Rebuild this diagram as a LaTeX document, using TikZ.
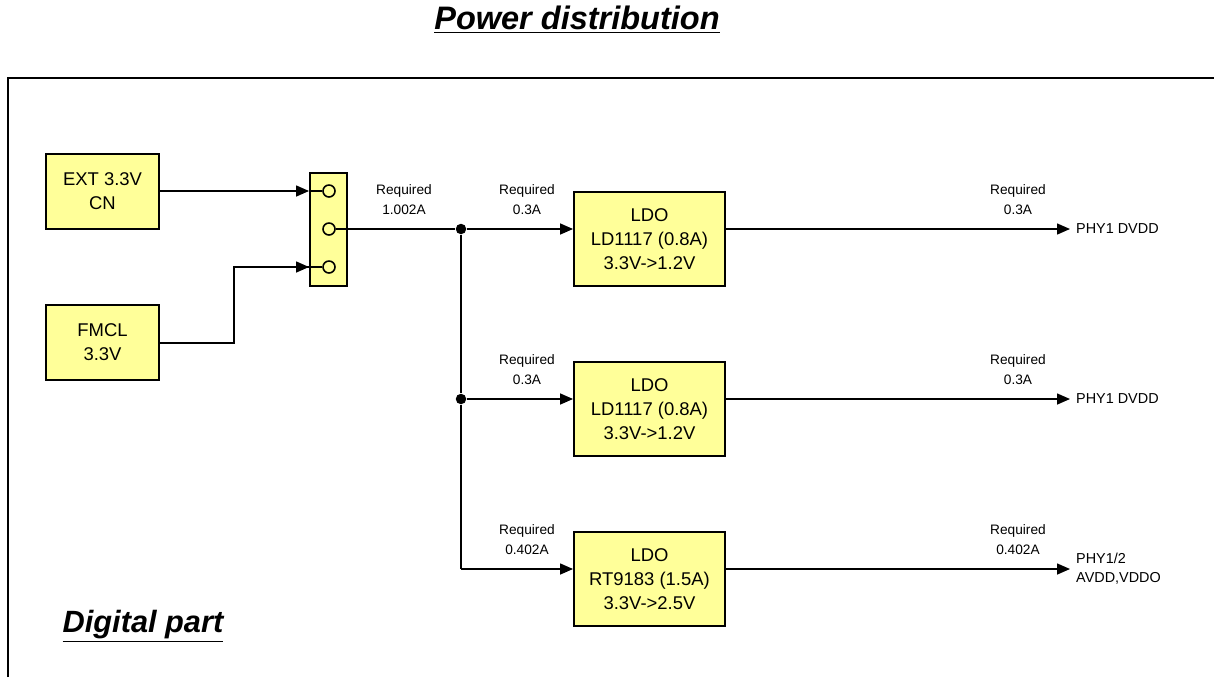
\documentclass[tikz,border=0pt]{standalone}
\usepackage{fontspec}
\setmainfont{Liberation Sans}
\usetikzlibrary{arrows.meta,positioning}
\definecolor{BoxYellow}{HTML}{FFFF99}

\begin{document}
\begin{tikzpicture}[
    x=0.02cm, y=-0.02cm,
    box/.style={
      draw, line width=1.1pt,
      fill=BoxYellow,
      minimum width=2.26cm,
      minimum height=1.5cm,
      align=center,
      font=\fontsize{10.5}{13.5}\selectfont
    },
    ldo/.style={box, minimum width=3.02cm, minimum height=1.88cm},
    jack/.style={draw, line width=1.1pt, fill=BoxYellow, minimum width=0.74cm, minimum height=2.26cm, inner sep=0pt},
    pin/.style={circle, draw, line width=0.9pt, fill=BoxYellow, minimum size=0.24cm, inner sep=0pt},
    req/.style={align=center, font=\fontsize{7.8}{11.3}\selectfont},
    dest/.style={anchor=west, align=left, font=\fontsize{8.2}{11}\selectfont},
    heading/.style={font=\fontsize{18.5}{20}\selectfont\bfseries\itshape},
    dot/.style={circle, fill, minimum size=0.21cm, inner sep=0pt},
    wire/.style={line width=0.85pt},
    arrow/.style={wire, -{Triangle[length=2.6mm, width=2.2mm]}}
  ]
    \useasboundingbox (0,0) rectangle (1214,677);

    % headings and frame
    \node[heading] (title) at (577,20) {\underline{Power distribution}};
    \node[heading, font=\fontsize{17.5}{20}\selectfont\bfseries\itshape] (digital) at (143,626) {\underline{Digital part}};
    \draw[line width=1.1pt] (8,677) -- (8,78) -- (1214,78);

    % sources
    \node[box] (ext) at (102.5,191.5) {EXT 3.3V\\CN};
    \node[box] (fmcl) at (102.5,342.5) {FMCL\\3.3V};

    % selector jumper
    \node[jack] (sel) at (328.5,229.5) {};
    \node[pin] (p1) at (329,191) {};
    \node[pin] (p2) at (329,229) {};
    \node[pin] (p3) at (329,267) {};

    % regulators
    \node[ldo] (ldoA) at (649.5,239) {LDO\\LD1117 (0.8A)\\3.3V->1.2V};
    \node[ldo] (ldoB) at (649.5,409) {LDO\\LD1117 (0.8A)\\3.3V->1.2V};
    \node[ldo] (ldoC) at (649.5,579) {LDO\\RT9183 (1.5A)\\3.3V->2.5V};

    % branch points
    \node[dot] (jA) at (461,229) {};
    \node[dot] (jB) at (461,399) {};
    \coordinate (jC) at (461,569);
    \coordinate (bend) at (234,343);

    % loads
    \node[dest] (phyA) at (1070,229) {PHY1 DVDD};
    \node[dest] (phyB) at (1070,399) {PHY1 DVDD};
    \node[dest] (phyC) at (1070,569) {PHY1/2\\AVDD,VDDO};

    % currents
    \node[req] (rqIn) at (404,200) {Required\\1.002A};
    \node[req] (rqA) at (527,200) {Required\\0.3A};
    \node[req] (rqB) at (527,370) {Required\\0.3A};
    \node[req] (rqC) at (527,540) {Required\\0.402A};
    \node[req] (rqA2) at (1018,200) {Required\\0.3A};
    \node[req] (rqB2) at (1018,370) {Required\\0.3A};
    \node[req] (rqC2) at (1018,540) {Required\\0.402A};

    % wiring
    \draw[arrow] (ext.east |- p1) -- (sel.west |- p1);
    \draw[wire] (sel.west |- p1) -- (p1.west);
    \draw[wire] (fmcl.east |- bend) -- (bend) |- (sel.west |- p3);
    \draw[arrow] (bend |- p3) -- (sel.west |- p3);
    \draw[wire] (sel.west |- p3) -- (p3.west);
    \draw[wire] (p2.east) -- (jA);
    \draw[arrow] (jA) -- (ldoA.west |- jA);
    \draw[wire] (jA) -- (jB) -- (jC);
    \draw[arrow] (jB) -- (ldoB.west |- jB);
    \draw[arrow] (jC) -- (ldoC.west |- jC);
    \draw[arrow] (ldoA.east |- jA) -- (phyA.west);
    \draw[arrow] (ldoB.east |- jB) -- (phyB.west);
    \draw[arrow] (ldoC.east |- jC) -- (phyC.west |- jC);
  \end{tikzpicture}
\end{document}
